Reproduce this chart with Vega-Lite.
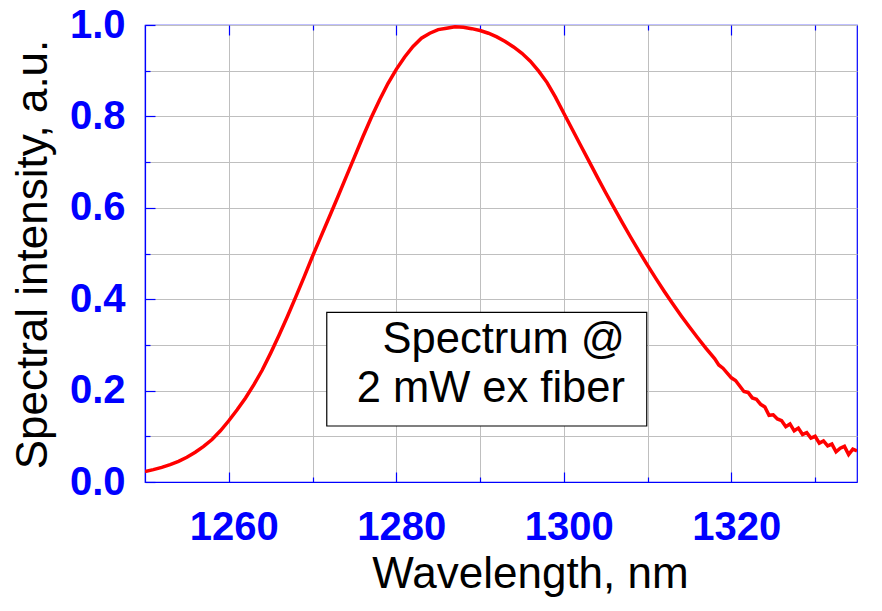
{
  "$schema": "https://vega.github.io/schema/vega-lite/v6.json",
  "width": 712,
  "height": 457,
  "autosize": {"type": "none"},
  "padding": {"left": 145, "top": 25, "right": 25, "bottom": 129},
  "background": "white",
  "config": {
    "view": {"stroke": "#0000FF", "strokeWidth": 1.2},
    "font": "Liberation Sans"
  },
  "datasets": {
    "spectrum": [
      {"wl": 1250, "v": 0.023}, {"wl": 1251, "v": 0.027}, {"wl": 1252, "v": 0.032},
      {"wl": 1253, "v": 0.038}, {"wl": 1254, "v": 0.045}, {"wl": 1255, "v": 0.054},
      {"wl": 1256, "v": 0.065}, {"wl": 1257, "v": 0.078}, {"wl": 1258, "v": 0.093},
      {"wl": 1259, "v": 0.112}, {"wl": 1260, "v": 0.134}, {"wl": 1261, "v": 0.158},
      {"wl": 1262, "v": 0.184}, {"wl": 1263, "v": 0.213}, {"wl": 1264, "v": 0.245},
      {"wl": 1265, "v": 0.282}, {"wl": 1266, "v": 0.321}, {"wl": 1267, "v": 0.362},
      {"wl": 1268, "v": 0.405}, {"wl": 1269, "v": 0.449}, {"wl": 1270, "v": 0.494},
      {"wl": 1271, "v": 0.537}, {"wl": 1272, "v": 0.58}, {"wl": 1273, "v": 0.623},
      {"wl": 1274, "v": 0.667}, {"wl": 1275, "v": 0.711}, {"wl": 1276, "v": 0.755},
      {"wl": 1277, "v": 0.797}, {"wl": 1278, "v": 0.836}, {"wl": 1279, "v": 0.872},
      {"wl": 1280, "v": 0.903}, {"wl": 1281, "v": 0.93}, {"wl": 1282, "v": 0.953},
      {"wl": 1283, "v": 0.971}, {"wl": 1284, "v": 0.982}, {"wl": 1285, "v": 0.99},
      {"wl": 1286, "v": 0.993}, {"wl": 1287, "v": 0.996}, {"wl": 1288, "v": 0.995},
      {"wl": 1289, "v": 0.992}, {"wl": 1290, "v": 0.988}, {"wl": 1291, "v": 0.982},
      {"wl": 1292, "v": 0.974}, {"wl": 1293, "v": 0.964}, {"wl": 1294, "v": 0.952},
      {"wl": 1295, "v": 0.938}, {"wl": 1296, "v": 0.921}, {"wl": 1297, "v": 0.899},
      {"wl": 1298, "v": 0.874}, {"wl": 1299, "v": 0.842}, {"wl": 1300, "v": 0.807},
      {"wl": 1301, "v": 0.772}, {"wl": 1302, "v": 0.737}, {"wl": 1303, "v": 0.702},
      {"wl": 1304, "v": 0.667}, {"wl": 1305, "v": 0.633}, {"wl": 1306, "v": 0.6},
      {"wl": 1307, "v": 0.567}, {"wl": 1308, "v": 0.535}, {"wl": 1309, "v": 0.504},
      {"wl": 1310, "v": 0.474}, {"wl": 1311, "v": 0.445}, {"wl": 1312, "v": 0.417},
      {"wl": 1313, "v": 0.39}, {"wl": 1314, "v": 0.364}, {"wl": 1315, "v": 0.339},
      {"wl": 1316, "v": 0.315}, {"wl": 1317, "v": 0.292}, {"wl": 1318, "v": 0.27},
      {"wl": 1318.5, "v": 0.256}, {"wl": 1319, "v": 0.249}, {"wl": 1320, "v": 0.228},
      {"wl": 1320.5, "v": 0.222}, {"wl": 1321, "v": 0.21}, {"wl": 1321.5, "v": 0.198},
      {"wl": 1322, "v": 0.196}, {"wl": 1322.5, "v": 0.184}, {"wl": 1323, "v": 0.181},
      {"wl": 1323.5, "v": 0.17}, {"wl": 1324, "v": 0.164}, {"wl": 1324.5, "v": 0.146},
      {"wl": 1325, "v": 0.147}, {"wl": 1325.5, "v": 0.138}, {"wl": 1326, "v": 0.134},
      {"wl": 1326.5, "v": 0.121}, {"wl": 1327, "v": 0.127}, {"wl": 1327.5, "v": 0.112},
      {"wl": 1328, "v": 0.118}, {"wl": 1328.5, "v": 0.104}, {"wl": 1329, "v": 0.108},
      {"wl": 1329.5, "v": 0.096}, {"wl": 1330, "v": 0.1}, {"wl": 1330.5, "v": 0.085},
      {"wl": 1331, "v": 0.09}, {"wl": 1331.5, "v": 0.079}, {"wl": 1332, "v": 0.083},
      {"wl": 1332.5, "v": 0.066}, {"wl": 1333, "v": 0.074}, {"wl": 1333.5, "v": 0.078},
      {"wl": 1334, "v": 0.06}, {"wl": 1334.5, "v": 0.072}, {"wl": 1335, "v": 0.068}
    ],
    "note": [{"text": "Spectrum @"}]
  },
  "resolve": {"axis": {"x": "independent", "y": "independent"}},
  "layer": [
    {
      "data": {"name": "spectrum"},
      "mark": {"type": "line", "color": "#FF0000", "strokeWidth": 3.5, "clip": true},
      "encoding": {
        "x": {
          "field": "wl", "type": "quantitative",
          "scale": {"domain": [1250, 1335], "nice": false, "zero": false},
          "axis": {
            "orient": "bottom",
            "values": [1260, 1270, 1280, 1290, 1300, 1310, 1320, 1330],
            "labelExpr": "datum.value % 20 == 0 ? datum.label : ''",
            "format": "d",
            "grid": true, "gridColor": "#BFBFBF", "gridWidth": 1,
            "domainColor": "#0000FF", "domainWidth": 1.2,
            "tickColor": "#0000FF", "tickWidth": 1.2,
            "tickSize": {"condition": {"test": "datum.value % 20 == 0", "value": -10}, "value": -5},
            "labelFont": "Liberation Sans", "labelFontSize": 40, "labelFontWeight": "bold",
            "labelColor": "#0000FF", "labelBaseline": "alphabetic", "labelPadding": 67,
            "labelOffset": 5, "labelFlush": false, "labelOverlap": false,
            "title": "Wavelength, nm", "titleFont": "Liberation Sans", "titleFontSize": 44,
            "titleFontWeight": "normal", "titleColor": "#000000",
            "titleBaseline": "alphabetic", "titleX": 385, "titleY": 105
          }
        },
        "y": {
          "field": "v", "type": "quantitative",
          "scale": {"domain": [0, 1], "nice": false, "zero": false},
          "axis": {
            "orient": "left",
            "values": [0, 0.1, 0.2, 0.3, 0.4, 0.5, 0.6, 0.7, 0.8, 0.9, 1.0],
            "labelExpr": "round(datum.value * 10) % 2 == 0 ? format(datum.value, '.1f') : ''",
            "grid": true, "gridColor": "#BFBFBF", "gridWidth": 1,
            "domainColor": "#0000FF", "domainWidth": 1.2,
            "tickColor": "#0000FF", "tickWidth": 1.2,
            "tickSize": {"condition": {"test": "round(datum.value * 10) % 2 == 0", "value": -10}, "value": -5},
            "labelFont": "Liberation Sans", "labelFontSize": 40, "labelFontWeight": "bold",
            "labelColor": "#0000FF", "labelBaseline": "middle", "labelPadding": 30,
            "labelFlush": false, "labelOverlap": false,
            "title": "Spectral intensity, a.u.", "titleFont": "Liberation Sans", "titleFontSize": 44,
            "titleFontWeight": "normal", "titleColor": "#000000",
            "titleBaseline": "alphabetic", "titleAngle": -90, "titleAlign": "center",
            "titleX": -99, "titleY": 229
          }
        }
      }
    },
    {
      "data": {"name": "note"},
      "mark": {"type": "rect", "fill": "white", "stroke": "black", "strokeWidth": 1.2},
      "encoding": {
        "x": {
          "datum": 1271.7, "type": "quantitative",
          "scale": {"domain": [1250, 1335], "nice": false, "zero": false},
          "axis": {
            "orient": "top",
            "values": [1260, 1270, 1280, 1290, 1300, 1310, 1320, 1330],
            "labels": false, "grid": false, "domain": false, "title": null,
            "tickColor": "#0000FF", "tickWidth": 1.2,
            "tickSize": {"condition": {"test": "datum.value % 20 == 0", "value": -10}, "value": -5}
          }
        },
        "x2": {"datum": 1309.9},
        "y": {"datum": 0.3713, "type": "quantitative", "scale": {"domain": [0, 1], "nice": false, "zero": false}, "axis": null},
        "y2": {"datum": 0.1225}
      }
    },
    {
      "data": {"name": "note"},
      "mark": {
        "type": "text", "text": ["Spectrum @", "2 mW ex fiber"],
        "font": "Liberation Sans", "fontSize": 43.5, "color": "black",
        "align": "right", "baseline": "alphabetic", "lineHeight": 49.3
      },
      "encoding": {
        "x": {"datum": 1307.3, "type": "quantitative", "scale": {"domain": [1250, 1335], "nice": false, "zero": false}, "axis": null},
        "y": {"datum": 0.2823, "type": "quantitative", "scale": {"domain": [0, 1], "nice": false, "zero": false}, "axis": null}
      }
    }
  ]
}
